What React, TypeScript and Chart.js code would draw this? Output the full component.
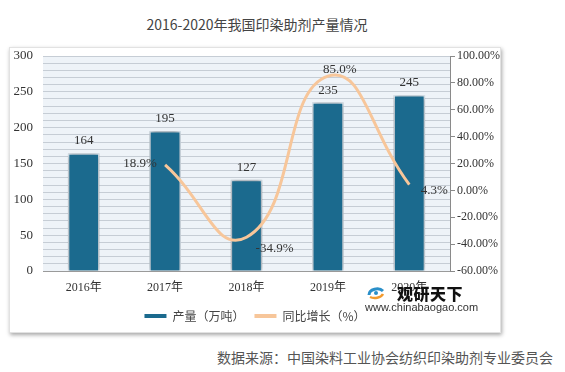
import React, { useEffect, useRef } from "react";
import { Chart, registerables } from "chart.js";

Chart.register(...registerables);

const categories = ["2016年", "2017年", "2018年", "2019年", "2020年"];
const production = [164, 195, 127, 235, 245];
const growth = [null, 18.9, -34.9, 85.0, 4.3];
const leftMin = 0;
const leftMax = 300;
const rightMin = -60;
const rightMax = 100;

const SERIF = "'Liberation Serif', 'Noto Sans CJK SC', serif";
const SANS = "'Noto Sans CJK SC', 'Noto Sans', sans-serif";
const BAR_COLOR = "#1b6a8e";
const LINE_COLOR = "#f7c69a";

const plotBg = {
  id: "plotBg",
  beforeDraw(chart: any) {
    const { ctx, chartArea } = chart;
    ctx.save();
    ctx.fillStyle = "#eef3f8";
    ctx.fillRect(chartArea.left, chartArea.top, chartArea.right - chartArea.left, chartArea.bottom - chartArea.top);
    ctx.restore();
  },
};

const barShadow = {
  id: "barShadow",
  beforeDatasetDraw(chart: any, args: any) {
    if (args.index !== 0) return;
    const ctx = chart.ctx;
    ctx.save();
    ctx.shadowColor = "rgba(0,0,0,0.45)";
    ctx.shadowBlur = 5;
    ctx.shadowOffsetX = 0;
    ctx.shadowOffsetY = 0;
  },
  afterDatasetDraw(chart: any, args: any) {
    if (args.index !== 0) return;
    chart.ctx.restore();
  },
};

const valueLabels = {
  id: "valueLabels",
  afterDatasetsDraw(chart: any) {
    const ctx = chart.ctx;
    ctx.save();
    ctx.font = `13px ${SERIF}`;
    ctx.fillStyle = "#333";
    ctx.textAlign = "center";
    ctx.textBaseline = "middle";
    const barMeta = chart.getDatasetMeta(0);
    barMeta.data.forEach((el: any, i: number) => {
      ctx.fillText(String(production[i]), el.x, el.y - 12.5);
    });
    const placement: Record<number, [number, number]> = {
      1: [-25, -1],
      2: [28, 11],
      3: [12, -7],
      4: [25, 6],
    };
    const lineMeta = chart.getDatasetMeta(1);
    lineMeta.data.forEach((el: any, i: number) => {
      const v = growth[i];
      if (v === null || v === undefined) return;
      const [dx, dy] = placement[i] || [0, -10];
      ctx.fillText(v.toFixed(1) + "%", el.x + dx, el.y + dy);
    });
    ctx.restore();
  },
};

function Logo() {
  return (
    <svg width="18" height="14" viewBox="0 0 18 14" style={{ position: "absolute", left: 367, top: 286 }}>
      <path d="M2 9 C2 3, 12 1, 16 5" stroke="#2a8fc9" strokeWidth="3" fill="none" />
      <path d="M3 11 C7 13, 14 12, 16 8" stroke="#f29a2e" strokeWidth="2.5" fill="none" />
      <circle cx="9" cy="7" r="2" fill="#2a8fc9" />
    </svg>
  );
}

export default function App() {
  const canvasRef = useRef<HTMLCanvasElement | null>(null);

  useEffect(() => {
    if (!canvasRef.current) return;
    const chart = new Chart(canvasRef.current, {
      type: "bar",
      data: {
        labels: categories,
        datasets: [
          {
            type: "bar",
            label: "产量（万吨）",
            data: production,
            backgroundColor: BAR_COLOR,
            borderColor: "#dbe7f0",
            borderWidth: 1.5,
            barThickness: 31,
            yAxisID: "y",
            order: 2,
          },
          {
            type: "line",
            label: "同比增长（%）",
            data: growth,
            borderColor: LINE_COLOR,
            backgroundColor: LINE_COLOR,
            borderWidth: 3,
            pointRadius: 0,
            tension: 0.5,
            yAxisID: "y1",
            order: 1,
          },
        ] as any,
      },
      options: {
        animation: false,
        responsive: false,
        maintainAspectRatio: false,
        layout: { padding: { top: 9, bottom: 1, left: 0, right: 0 } },
        plugins: {
          title: { display: false },
          tooltip: { enabled: false },
          legend: {
            position: "bottom",
            labels: {
              boxWidth: 22,
              boxHeight: 4,
              padding: 10,
              color: "#444",
              font: { size: 12, family: SANS },
              sort: (a: any, b: any) => a.datasetIndex - b.datasetIndex,
              generateLabels: (chart: any) => {
                const items = Chart.defaults.plugins.legend.labels.generateLabels(chart);
                return items.map((it: any) => {
                  const c = it.datasetIndex === 0 ? BAR_COLOR : LINE_COLOR;
                  return { ...it, fillStyle: c, strokeStyle: c, lineWidth: 0 };
                });
              },
            },
          },
        },
        scales: {
          x: {
            grid: { display: false, drawTicks: false },
            border: { display: true, color: "#9a9a9a" },
            ticks: { color: "#333", font: { size: 12, family: SERIF }, padding: 10 },
            afterFit: (s: any) => {
              s.height = 29;
            },
          },
          y: {
            position: "left",
            min: leftMin,
            max: leftMax,
            grid: { color: "#c6cdd5", drawTicks: false, lineWidth: 1 },
            border: { display: false },
            ticks: {
              stepSize: 10,
              autoSkip: false,
              padding: 10,
              color: "#333",
              font: { size: 13, family: SERIF },
              callback: (v: any) => (Number(v) % 50 === 0 ? String(v) : ""),
            },
            afterFit: (s: any) => {
              s.width = 34;
              s.paddingTop = 0;
              s.paddingBottom = 0;
            },
          },
          y1: {
            position: "right",
            min: rightMin,
            max: rightMax,
            grid: { drawOnChartArea: false, drawTicks: true, tickLength: 5, color: "#8a8a8a" },
            border: { display: true, color: "#8a8a8a" },
            ticks: {
              stepSize: 20,
              padding: 2,
              color: "#333",
              font: { size: 12, family: SERIF },
              callback: (v: any) => Number(v).toFixed(2) + "%",
            },
            afterFit: (s: any) => {
              s.width = 51;
              s.paddingTop = 0;
              s.paddingBottom = 0;
            },
          },
        },
      } as any,
      plugins: [plotBg, barShadow, valueLabels],
    });
    return () => chart.destroy();
  }, []);

  return (
    <div style={{ position: "fixed", left: 0, top: 0, width: 565, height: 372, background: "#fff", overflow: "hidden" }}>
      <div
        style={{
          position: "absolute",
          left: 0,
          top: 15,
          width: 514,
          textAlign: "center",
          fontFamily: SANS,
          fontSize: 14,
          color: "#444",
          lineHeight: "18px",
        }}
      >
        2016-2020年我国印染助剂产量情况
      </div>
      <div
        style={{
          position: "absolute",
          left: 9,
          top: 47,
          width: 492,
          height: 286,
          boxShadow: "1px 2px 4px rgba(0,0,0,0.35)",
          border: "1px solid #e2e2e2",
          boxSizing: "border-box",
          background: "#fff",
        }}
      />
      <canvas ref={canvasRef} width={492} height={286} style={{ position: "absolute", left: 9, top: 47, width: 492, height: 286 }} />
      <Logo />
      <div
        style={{
          position: "absolute",
          left: 397,
          top: 283,
          fontFamily: SANS,
          fontWeight: 900,
          fontSize: 16,
          lineHeight: "20px",
          color: "#111",
          letterSpacing: 0.5,
        }}
      >
        观研天下
      </div>
      <div
        style={{
          position: "absolute",
          left: 365,
          top: 300,
          fontFamily: "'Liberation Sans', Arial, sans-serif",
          fontSize: 11,
          lineHeight: "14px",
          color: "#333",
        }}
      >
        www.chinabaogao.com
      </div>
      <div
        style={{
          position: "absolute",
          left: 217,
          top: 347,
          fontFamily: SANS,
          fontSize: 14,
          lineHeight: "20px",
          color: "#555",
          whiteSpace: "nowrap",
        }}
      >
        数据来源：中国染料工业协会纺织印染助剂专业委员会
      </div>
    </div>
  );
}
